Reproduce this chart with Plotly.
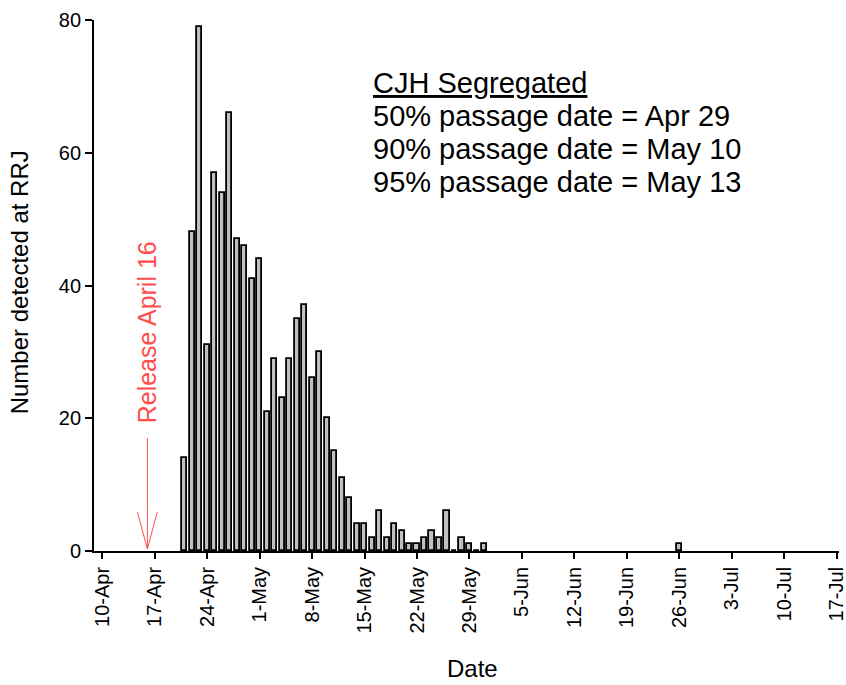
import datetime as dt
import plotly.graph_objects as go

# Daily detections at RRJ
dates = [
    "2010-04-21", "2010-04-22", "2010-04-23", "2010-04-24", "2010-04-25",
    "2010-04-26", "2010-04-27", "2010-04-28", "2010-04-29", "2010-04-30",
    "2010-05-01", "2010-05-02", "2010-05-03", "2010-05-04", "2010-05-05",
    "2010-05-06", "2010-05-07", "2010-05-08", "2010-05-09", "2010-05-10",
    "2010-05-11", "2010-05-12", "2010-05-13", "2010-05-14", "2010-05-15",
    "2010-05-16", "2010-05-17", "2010-05-18", "2010-05-19", "2010-05-20",
    "2010-05-21", "2010-05-22", "2010-05-23", "2010-05-24", "2010-05-25",
    "2010-05-26", "2010-05-27", "2010-05-28", "2010-05-29", "2010-05-30",
    "2010-05-31", "2010-06-26",
]
counts = [
    14, 48, 79, 31, 57,
    54, 66, 47, 46, 41,
    44, 21, 29, 23, 29,
    35, 37, 26, 30, 20,
    15, 11, 8, 4, 4,
    2, 6, 2, 4, 3,
    1, 1, 2, 3, 2,
    6, 0, 2, 1, 0,
    1, 1,
]

release_date = "2010-04-16"
release_label = "Release April 16"
summary_lines = [
    "<u>CJH Segregated</u>",
    "50% passage date = Apr 29",
    "90% passage date = May 10",
    "95% passage date = May 13",
]

FONT = "Liberation Sans, Arial, sans-serif"
RED = "#ff4d4d"
DAY_MS = 86400000

fig = go.Figure()
fig.add_trace(go.Bar(
    x=dates,
    y=counts,
    width=0.68 * DAY_MS,
    marker=dict(color="#c0c0c0", line=dict(color="black", width=1.8)),
    showlegend=False,
))

rel = dt.datetime.fromisoformat(release_date)
head_dx = dt.timedelta(days=1.33)

shapes = [
    # shaft of the release arrow
    dict(type="line", xref="x", yref="y", x0=rel, x1=rel, y0=17, y1=0.3,
         line=dict(color=RED, width=1)),
    # open arrowhead
    dict(type="line", xref="x", yref="y", x0=rel - head_dx, x1=rel, y0=5.9, y1=0.3,
         line=dict(color=RED, width=1)),
    dict(type="line", xref="x", yref="y", x0=rel + head_dx, x1=rel, y0=5.9, y1=0.3,
         line=dict(color=RED, width=1)),
]

annotations = [
    dict(x=rel, y=33, xref="x", yref="y", text=release_label, textangle=-90,
         showarrow=False, font=dict(family=FONT, size=25, color=RED),
         xanchor="center", yanchor="middle"),
    dict(x=0.508, y=-0.222, xref="paper", yref="paper", text="Date", showarrow=False,
         font=dict(family=FONT, size=24, color="black"), xanchor="center", yanchor="middle"),
    dict(x=-0.10, y=0.505, xref="paper", yref="paper", text="Number detected at RRJ",
         textangle=-90, showarrow=False, font=dict(family=FONT, size=24, color="black"),
         xanchor="center", yanchor="middle"),
]
line_y = [0.881, 0.819, 0.757, 0.695]
for txt, yy in zip(summary_lines, line_y):
    annotations.append(dict(x=0.372, y=yy, xref="paper", yref="paper", text=txt,
                            showarrow=False, xanchor="left", yanchor="middle",
                            font=dict(family=FONT, size=29, color="black")))

fig.update_layout(
    width=846, height=685,
    margin=dict(l=94, r=7, t=20, b=134, autoexpand=False),
    paper_bgcolor="white", plot_bgcolor="white",
    font=dict(family=FONT, size=20, color="black"),
    bargap=0,
    shapes=shapes,
    annotations=annotations,
    xaxis=dict(
        type="date", automargin=False,
        range=["2010-04-08 21:00", "2010-07-17 08:00"],
        tick0="2010-04-10", dtick=7 * DAY_MS, tickformat="%-d-%b",
        tickangle=-90, ticks="outside", ticklen=6, tickwidth=1.5, tickcolor="black",
        showline=True, linecolor="black", linewidth=1.8,
        showgrid=False, zeroline=False, ticklabeloverflow="allow",
        tickfont=dict(family=FONT, size=20, color="black"),
    ),
    yaxis=dict(
        range=[0, 80], tick0=0, dtick=20, automargin=False,
        ticks="outside", ticklen=7, tickwidth=1.5, tickcolor="black",
        showline=True, linecolor="black", linewidth=1.8,
        showgrid=False, zeroline=False,
        tickfont=dict(family=FONT, size=20, color="black"),
    ),
)

fig.write_html("out.html")
